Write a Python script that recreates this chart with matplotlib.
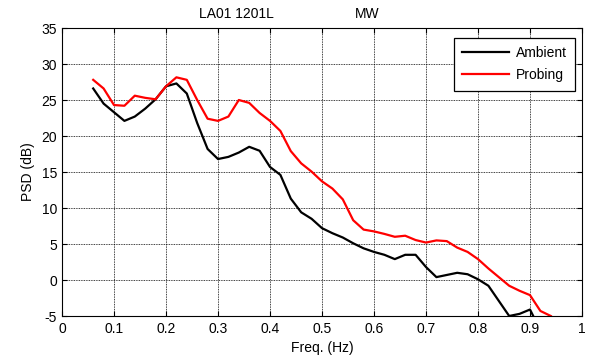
import matplotlib
matplotlib.use("Agg")
import matplotlib.pyplot as plt
from matplotlib.ticker import FixedLocator, FuncFormatter

plt.rcParams['font.family'] = ['Liberation Sans', 'DejaVu Sans']

freq = [0.06, 0.08, 0.10, 0.12, 0.14, 0.16, 0.18, 0.20, 0.22, 0.24,
        0.26, 0.28, 0.30, 0.32, 0.34, 0.36, 0.38, 0.40, 0.42, 0.44,
        0.46, 0.48, 0.50, 0.52, 0.54, 0.56, 0.58, 0.60, 0.62, 0.64,
        0.66, 0.68, 0.70, 0.72, 0.74, 0.76, 0.78, 0.80, 0.82, 0.84,
        0.86, 0.88, 0.90, 0.92, 0.94]

ambient = [26.6, 24.5, 23.3, 22.1, 22.7, 23.8, 25.1, 26.9, 27.3, 25.9,
           21.8, 18.2, 16.8, 17.1, 17.7, 18.5, 17.95, 15.7, 14.6, 11.3,
           9.4, 8.5, 7.2, 6.5, 5.9, 5.1, 4.4, 3.9, 3.5, 2.9,
           3.5, 3.5, 1.8, 0.4, 0.7, 1.0, 0.8, 0.1, -0.8, -2.9,
           -5.0, -4.7, -4.1, -7.0, -9.0]

probing = [27.8, 26.6, 24.3, 24.2, 25.6, 25.3, 25.1, 26.9, 28.15, 27.8,
           25.0, 22.4, 22.1, 22.7, 25.0, 24.6, 23.2, 22.1, 20.7, 17.9,
           16.2, 15.05, 13.7, 12.7, 11.2, 8.3, 7.0, 6.75, 6.4, 6.0,
           6.15, 5.55, 5.2, 5.5, 5.4, 4.5, 3.9, 2.9, 1.6, 0.4,
           -0.8, -1.5, -2.1, -4.3, -5.0]

xticks = [0, 0.1, 0.2, 0.3, 0.4, 0.5, 0.6, 0.7, 0.8, 0.9, 1.0]
yticks = [-5, 0, 5, 10, 15, 20, 25, 30, 35]

W, H = 593, 362
FS = 10

fig = plt.figure(figsize=(W / 100, H / 100), dpi=100)
ax = fig.add_axes([62 / W, 1 - 316 / H, 520 / W, 288 / H])

ax.plot(freq, ambient, color='black', lw=1.6, label='Ambient')
ax.plot(freq, probing, color='#ff0000', lw=1.6, label='Probing')

ax.set_xlim(0, 1)
ax.set_ylim(-5, 35)
ax.xaxis.set_major_locator(FixedLocator(xticks))
ax.yaxis.set_major_locator(FixedLocator(yticks))
ax.xaxis.set_major_formatter(FuncFormatter(lambda v, p: f"{v:g}"))
ax.yaxis.set_major_formatter(FuncFormatter(lambda v, p: f"{v:g}"))
ax.tick_params(direction='in', top=True, right=True, length=3.5,
               width=0.8, labelsize=FS)
ax.tick_params(axis='x', pad=4)
ax.tick_params(axis='y', pad=3.5)
ax.grid(True, color='black', linestyle=(0, (1, 1)), linewidth=0.6)
for s in ax.spines.values():
    s.set_linewidth(0.8)

ax.set_xlabel('Freq. (Hz)', fontsize=FS, labelpad=4)
ax.set_ylabel('PSD (dB)', fontsize=FS, labelpad=5)

fig.text(236 / W, 1 - 14 / H, 'LA01 1201L', ha='center', va='center',
         fontsize=FS)
fig.text(367 / W, 1 - 14 / H, 'MW', ha='center', va='center',
         fontsize=FS)

leg = ax.legend(loc='upper right', bbox_to_anchor=(575 / W, 1 - 37.5 / H),
                bbox_transform=fig.transFigure, borderaxespad=0,
                fontsize=FS, frameon=True, fancybox=False,
                edgecolor='black', framealpha=1, handlelength=3.4,
                labelspacing=0.6, borderpad=0.6, handletextpad=0.45)
leg.get_frame().set_linewidth(0.9)

fig.savefig('out.png', dpi=100)
